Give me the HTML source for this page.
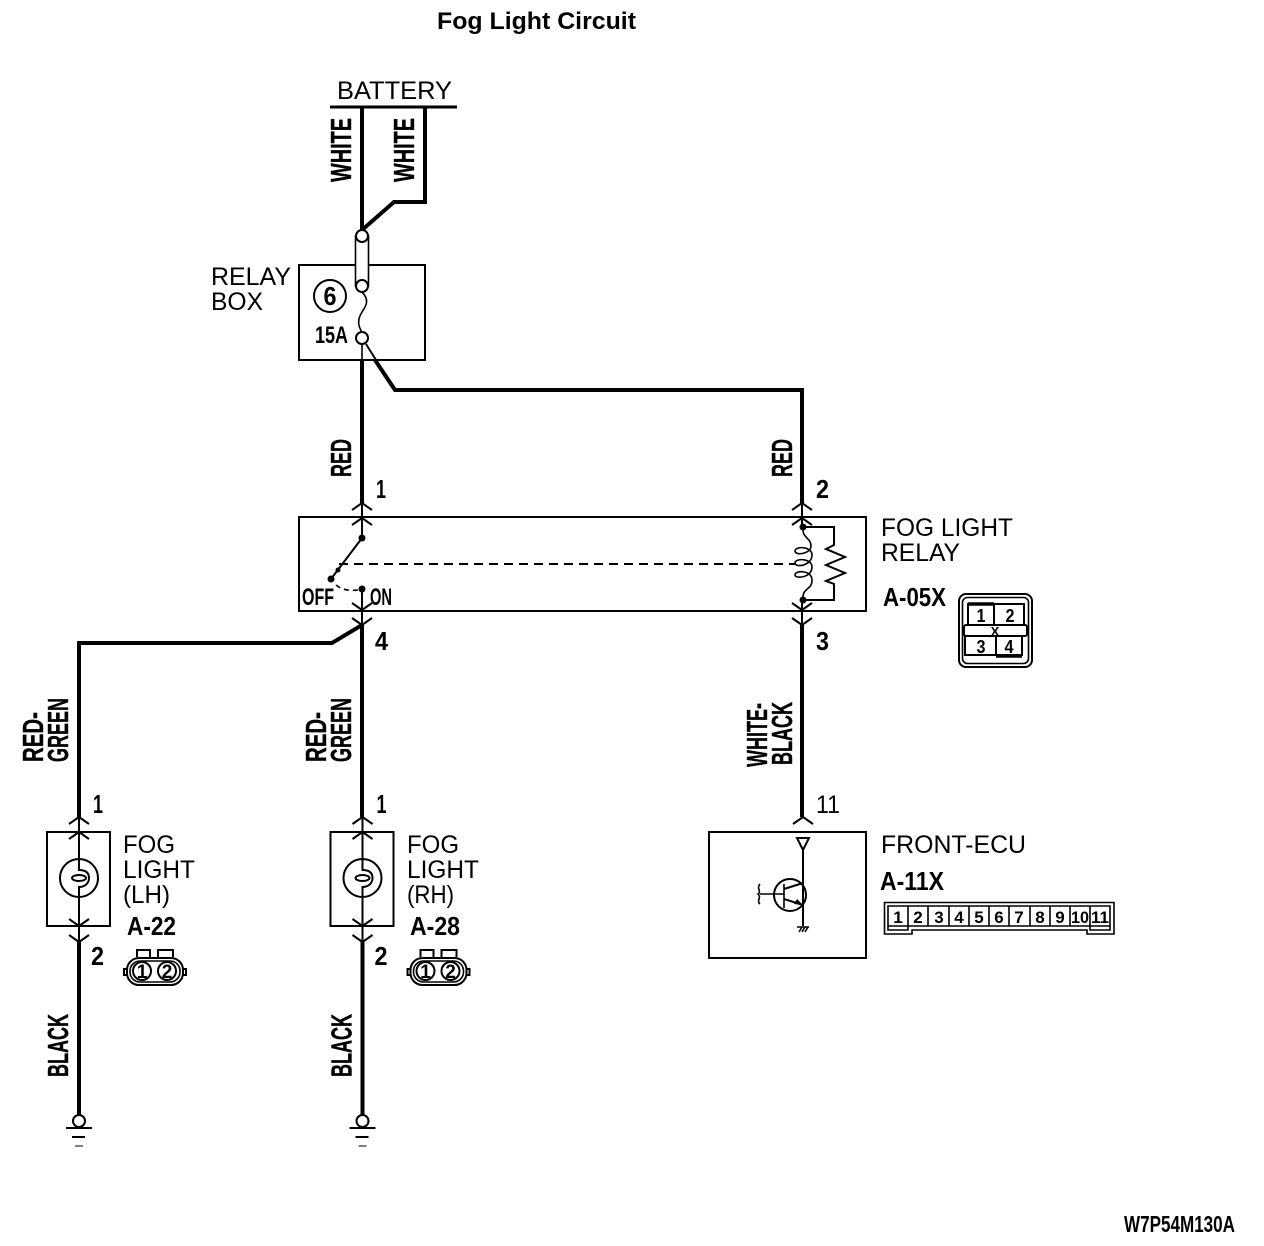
<!DOCTYPE html>
<html><head><meta charset="utf-8"><style>
html,body{margin:0;padding:0;background:#fff}
svg{display:block}
text{font-family:"Liberation Sans",sans-serif;fill:#000}
.n{font-size:25px}
.b{font-size:26px;font-weight:bold}
.w{font-size:29px;font-weight:bold;stroke:#000;stroke-width:.4}
.s{font-size:15px;font-weight:bold}
.t{fill:none;stroke:#000;stroke-width:1.6}
.m{fill:none;stroke:#000;stroke-width:2}
.k{fill:none;stroke:#000;stroke-width:4;stroke-linejoin:miter}
.c{fill:#fff;stroke:#000;stroke-width:2}
</style></head><body>
<svg width="1264" height="1246" viewBox="0 0 1264 1246" xmlns="http://www.w3.org/2000/svg">
<defs>
<path id="up" class="m" d="M-10 7L0 0L10 7"/>
<path id="dn" class="m" d="M-10 -7L0 0L10 -7"/>
</defs>
<text x="437" y="29" style="font-size:24px;font-weight:bold" textLength="199" lengthAdjust="spacingAndGlyphs">Fog Light Circuit</text>

<!-- battery -->
<text x="337" y="99" class="n" textLength="115" lengthAdjust="spacingAndGlyphs">BATTERY</text>
<path d="M330 107H457" stroke="#000" stroke-width="3"/>
<path class="k" d="M362 107V230"/>
<path class="k" d="M425 107V202H394L362 230"/>
<text class="w" transform="translate(351,182) rotate(-90)" textLength="64" lengthAdjust="spacingAndGlyphs">WHITE</text>
<text class="w" transform="translate(414,182) rotate(-90)" textLength="64" lengthAdjust="spacingAndGlyphs">WHITE</text>

<!-- relay box -->
<rect x="299" y="265" width="126" height="95" class="m"/>
<text x="211" y="285" class="n" textLength="80" lengthAdjust="spacingAndGlyphs">RELAY</text>
<text x="211" y="310" class="n" textLength="52" lengthAdjust="spacingAndGlyphs">BOX</text>
<rect x="355.500" y="236" width="13" height="50" fill="#fff" stroke="#000" stroke-width="1.600"/>
<circle cx="362" cy="236" r="6" class="c"/>
<circle cx="362" cy="286" r="6" class="c"/>
<path class="t" d="M362 292C370 300 366 306 362 312C357 320 358 326 362 332"/>
<circle cx="362" cy="338" r="6" class="c"/>
<circle cx="330" cy="296" r="16" class="c"/>
<text x="330" y="305" class="b" text-anchor="middle" textLength="13" lengthAdjust="spacingAndGlyphs">6</text>
<text x="315" y="343" class="b" style="font-size:24px" textLength="33" lengthAdjust="spacingAndGlyphs">15A</text>
<path class="t" d="M362 344V360"/>
<path class="k" d="M362 360V504"/>
<path class="m" d="M366 344L376 360"/>
<path class="k" d="M375 360L395 390H802V504"/>
<text class="w" transform="translate(351,477) rotate(-90)" textLength="38" lengthAdjust="spacingAndGlyphs">RED</text>
<text class="w" transform="translate(792,477) rotate(-90)" textLength="38" lengthAdjust="spacingAndGlyphs">RED</text>

<!-- relay -->
<rect x="299" y="517" width="567" height="94" class="m"/>
<text x="376" y="498" class="b" textLength="10" lengthAdjust="spacingAndGlyphs">1</text>
<text x="816" y="498" class="b" textLength="13" lengthAdjust="spacingAndGlyphs">2</text>
<text x="375" y="650" class="b" textLength="13" lengthAdjust="spacingAndGlyphs">4</text>
<text x="816" y="650" class="b" textLength="13" lengthAdjust="spacingAndGlyphs">3</text>
<use href="#up" x="362" y="503"/><use href="#up" x="362" y="518"/>
<use href="#up" x="802" y="503"/><use href="#up" x="802" y="518"/>
<use href="#dn" x="362" y="610"/><use href="#dn" x="362" y="625"/>
<use href="#dn" x="802" y="610"/><use href="#dn" x="802" y="625"/>
<path class="m" d="M362 503V538M362 589V625M802 503V527M802 600V625"/>
<circle cx="362" cy="538" r="3.500"/><circle cx="331" cy="579" r="3.500"/><circle cx="362" cy="589" r="3.500"/>
<circle cx="338" cy="570" r="2.500"/>
<path class="m" d="M362 538L331 579"/>
<path class="m" d="M339 564H796" stroke-dasharray="9 6"/>
<path class="t" d="M336 585C342 590 350 591 358 590" stroke-dasharray="5 4"/>
<text x="302" y="605" class="b" style="font-size:24px" textLength="32" lengthAdjust="spacingAndGlyphs">OFF</text>
<text x="370" y="605" class="b" style="font-size:24px" textLength="22" lengthAdjust="spacingAndGlyphs">ON</text>
<circle cx="803" cy="527" r="3.500"/><circle cx="803" cy="600" r="3.500"/>
<path class="m" d="M803 527H834V545L826 549L845 557L826 565L845 573L826 581L834 584V600H803"/>
<path class="t" d="M803 530C803 538 811 538 811 546C811 554 795 556 795 551C795 546 812 546 812 555C812 566 795 568 795 563C795 558 812 558 812 567C812 578 795 579 795 575C795 570 812 570 812 580C812 590 803 588 803 597"/>
<text x="881" y="536" class="n" textLength="132" lengthAdjust="spacingAndGlyphs">FOG LIGHT</text>
<text x="881" y="561" class="n" textLength="79" lengthAdjust="spacingAndGlyphs">RELAY</text>
<text x="883" y="606" class="b" textLength="63" lengthAdjust="spacingAndGlyphs">A-05X</text>

<!-- A-05X connector -->
<rect x="959" y="594" width="73" height="73" rx="7" class="m"/>
<rect x="962.500" y="597.500" width="66" height="66" rx="5" class="t"/>
<path class="m" d="M968 625V604H1024V625M965 636V655H1022V636M994 604V625M996 636V656"/>
<path d="M968 604H994M996 656H1022" stroke="#000" stroke-width="3.500"/>
<rect x="964" y="625" width="63" height="11" rx="2" fill="#fff" stroke="#000" stroke-width="2"/>
<text x="995" y="636" style="font-size:13px;font-weight:bold" text-anchor="middle">X</text>
<text x="981" y="622" style="font-size:18px;font-weight:bold" text-anchor="middle" textLength="9" lengthAdjust="spacingAndGlyphs">1</text>
<text x="1010" y="622" style="font-size:18px;font-weight:bold" text-anchor="middle" textLength="9" lengthAdjust="spacingAndGlyphs">2</text>
<text x="981" y="653" style="font-size:18px;font-weight:bold" text-anchor="middle" textLength="9" lengthAdjust="spacingAndGlyphs">3</text>
<text x="1009" y="653" style="font-size:18px;font-weight:bold" text-anchor="middle" textLength="9" lengthAdjust="spacingAndGlyphs">4</text>

<!-- wires below relay -->
<path class="k" d="M362 625L332 643H79V817"/>
<path class="k" d="M362 625V817"/>
<path class="k" d="M802 625V817"/>
<text class="w" transform="translate(43,762) rotate(-90)" textLength="50" lengthAdjust="spacingAndGlyphs">RED-</text>
<text class="w" transform="translate(68,762) rotate(-90)" textLength="64" lengthAdjust="spacingAndGlyphs">GREEN</text>
<text class="w" transform="translate(326,762) rotate(-90)" textLength="50" lengthAdjust="spacingAndGlyphs">RED-</text>
<text class="w" transform="translate(351,762) rotate(-90)" textLength="64" lengthAdjust="spacingAndGlyphs">GREEN</text>
<text class="w" transform="translate(767,767) rotate(-90)" textLength="64" lengthAdjust="spacingAndGlyphs">WHITE-</text>
<text class="w" transform="translate(792,765) rotate(-90)" textLength="63" lengthAdjust="spacingAndGlyphs">BLACK</text>

<!-- lamp LH -->
<g id="lamp">
<rect x="47" y="832" width="63" height="94" class="m"/>
<use href="#up" x="79" y="817"/><use href="#up" x="79" y="832"/>
<use href="#dn" x="79" y="926"/><use href="#dn" x="79" y="942"/>
<circle cx="79" cy="878" r="19" class="m"/>
<path class="m" d="M79 817V870C87 870 89 874 89 878C89 884 84 887 79 887V942"/>
<ellipse cx="79" cy="878" rx="7" ry="3" class="m"/>
<path class="k" d="M79 942V1115"/>
<circle cx="79" cy="1121" r="6" class="c"/>
<path d="M66 1128H92" stroke="#000" stroke-width="2"/>
<path d="M72 1137H85" stroke="#000" stroke-width="2"/>
<path d="M75 1146H83" stroke="#000" stroke-width="1"/>
<text transform="translate(68,1077) rotate(-90)" class="w" textLength="63" lengthAdjust="spacingAndGlyphs">BLACK</text>
<text x="93" y="813" class="b" textLength="10" lengthAdjust="spacingAndGlyphs">1</text>
<text x="91" y="965" class="b" textLength="13" lengthAdjust="spacingAndGlyphs">2</text>
<!-- oval connector -->
<path class="m" d="M137 957V950H150V957M158 957V950H173V957"/>
<rect x="127" y="958" width="56" height="27" rx="12" class="m"/>
<rect x="130" y="961" width="50" height="21" rx="10" class="t"/>
<path class="m" d="M127 969H124V975H127M183 969H186V975H183"/>
<circle cx="142" cy="971" r="9" class="c"/>
<circle cx="167" cy="971" r="9" class="c"/>
<text x="142" y="978" style="font-size:19px;font-weight:bold" text-anchor="middle">1</text>
<text x="167" y="978" style="font-size:19px;font-weight:bold" text-anchor="middle">2</text>
</g>
<use href="#lamp" x="283.500"/>
<text x="123" y="853" class="n" textLength="52" lengthAdjust="spacingAndGlyphs">FOG</text>
<text x="123" y="878" class="n" textLength="72" lengthAdjust="spacingAndGlyphs">LIGHT</text>
<text x="123" y="903" class="n" textLength="47" lengthAdjust="spacingAndGlyphs">(LH)</text>
<text x="127" y="935" class="b" textLength="49" lengthAdjust="spacingAndGlyphs">A-22</text>
<text x="407" y="853" class="n" textLength="52" lengthAdjust="spacingAndGlyphs">FOG</text>
<text x="407" y="878" class="n" textLength="72" lengthAdjust="spacingAndGlyphs">LIGHT</text>
<text x="407" y="903" class="n" textLength="47" lengthAdjust="spacingAndGlyphs">(RH)</text>
<text x="410" y="935" class="b" textLength="50" lengthAdjust="spacingAndGlyphs">A-28</text>

<!-- ECU -->
<text x="816" y="813" class="n" textLength="24" lengthAdjust="spacingAndGlyphs">11</text>
<use href="#up" x="803" y="817"/>
<rect x="709" y="832" width="157" height="126" class="m"/>
<path class="m" d="M797 838H809L803 850Z"/>
<path class="m" d="M803 850V926"/>
<circle cx="790" cy="895" r="16" class="m"/>
<path class="t" d="M784 884V908M760 894H784"/>
<path class="m" d="M784 889L803 883M784 899L803 905"/>
<path d="M803 905L794 904L797 899Z"/>
<path class="t" d="M760 884C756 888 762 892 758 894C762 897 756 901 760 904" />
<path class="t" d="M797 927H809M799 932L802 927M802 932L805 927M805 932L808 927"/>
<text x="881" y="853" class="n" textLength="145" lengthAdjust="spacingAndGlyphs">FRONT-ECU</text>
<text x="880" y="890" class="b" textLength="64" lengthAdjust="spacingAndGlyphs">A-11X</text>

<!-- ECU connector -->
<path class="t" d="M884.500 902.500H1114V934H1087V930H912V934H884.500Z"/>
<path class="t" d="M888 906H1110V926H888ZM908 906V930H888V926M928 906V926M949 906V926M969 906V926M989 906V926M1009 906V926M1030 906V926M1050 906V926M1070 906V926M1090 906V930H1110V926"/>
<g style="font-size:17px;font-weight:bold" text-anchor="middle">
<text x="898" y="923">1</text><text x="918" y="923">2</text><text x="939" y="923">3</text><text x="959" y="923">4</text><text x="979" y="923">5</text><text x="999" y="923">6</text><text x="1019" y="923">7</text><text x="1040" y="923">8</text><text x="1060" y="923">9</text><text x="1080" y="923" textLength="18" lengthAdjust="spacingAndGlyphs">10</text><text x="1100" y="923" textLength="18" lengthAdjust="spacingAndGlyphs">11</text>
</g>

<text x="1124" y="1232" style="font-size:23px;font-weight:bold" textLength="111" lengthAdjust="spacingAndGlyphs">W7P54M130A</text>
</svg>
</body></html>
